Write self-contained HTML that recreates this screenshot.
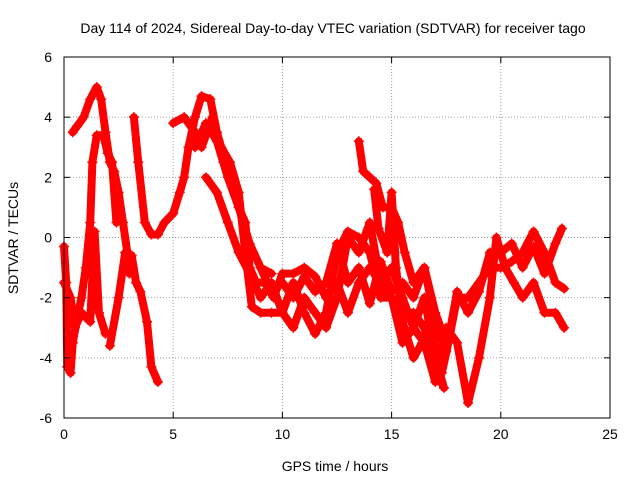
<!DOCTYPE html>
<html><head><meta charset="utf-8"><style>
body{margin:0;background:#fff;}
svg{display:block;font-family:"Liberation Sans",sans-serif;}
</style></head><body>
<svg id="chart" width="640" height="480" viewBox="0 0 640 480" xmlns="http://www.w3.org/2000/svg">
<text x="333" y="33" font-size="14" text-anchor="middle">Day 114 of 2024, Sidereal Day-to-day VTEC variation (SDTVAR) for receiver tago</text>
<text x="335" y="471" font-size="14" text-anchor="middle">GPS time / hours</text>
<text transform="translate(18,238) rotate(-90)" font-size="14" text-anchor="middle">SDTVAR / TECUs</text>
<g id="grid"></g>
<g id="series"></g>
<rect x="64" y="57" width="546" height="361" fill="none" stroke="#000" stroke-width="1"/>
<g id="ticks"></g>
</svg>
<script>
const xTicks=[0,5,10,15,20,25];
const yTicks=[-6,-4,-2,0,2,4,6];
const seriesA=[[0.4,3.5],[0.6,3.7],[0.9,4.0],[1.2,4.6],[1.5,5.0],[1.7,4.6],[1.9,3.5],[2.1,2.5],[2.3,2.2],[2.5,1.5],[2.7,0.5],[2.9,-0.5],[3.0,-1.2]];
const seriesB=[[0,-0.3],[0.1,-1.5],[0.15,-4.3],[0.3,-4.5],[0.4,-3.5],[0.6,-2.7],[0.8,-2.0],[1.0,-1.0],[1.2,0.5],[1.3,2.5],[1.5,3.4],[1.8,3.4],[2.0,2.8],[2.2,2.5],[2.4,0.5]];
const seriesC=[[0,-1.5],[0.3,-2],[0.5,-3],[0.8,-2.5],[1.2,-2.8],[1.4,0.2],[1.6,-2.5],[1.9,-3.2]];
const seriesD=[[2.1,-3.6],[2.5,-2],[2.8,-0.5],[3.1,-0.6],[3.3,-1.5],[3.5,-1.8],[3.8,-2.8],[4.0,-4.3],[4.3,-4.8]];
const seriesE=[[3.2,4.0],[3.4,2.5],[3.7,0.5],[4.0,0.1],[4.3,0.1],[4.6,0.5],[5.0,0.8],[5.3,1.5],[5.5,2.0],[5.7,3.0],[6.0,4.0],[6.3,4.7],[6.7,4.6],[7.0,3.5],[7.3,2.5],[7.6,2.0],[8.0,1.0],[8.3,0.5],[8.5,-1.0],[8.8,-1.5],[9.2,-1.5],[9.6,-2],[10,-1.2],[10.5,-1.2],[11,-1.0],[11.5,-1.3],[12,-2.0],[12.5,-1.5],[13,-2.5],[13.5,-1.5],[14,-1.0],[14.5,-1.5],[15,-2.0],[15.5,-2.5],[16,-2.5],[16.5,-3.0],[17,-4.0],[17.3,-4.5],[17.6,-3.5],[18,-2.0],[18.5,-2.0],[19,-1.5],[19.5,-1.0],[20,-1.0],[20.5,-0.8],[21,-0.5],[21.5,0.2],[22,-0.5],[22.5,-1.5],[22.9,-1.7]];
const seriesF=[[5.0,3.8],[5.5,4.0],[6.0,3.5],[6.3,3.0],[6.8,4.0],[7.2,3.0],[7.6,2.5],[8.0,1.5],[8.3,-0.5],[8.6,-2.3],[9.0,-2.5],[9.5,-2.5],[10,-2.5],[10.5,-3.0],[11,-2.0],[11.5,-2.5],[12,-3.0],[12.5,-2.0],[13,0],[13.5,-0.5],[14,0.5],[14.5,-1.5],[15,-1.0],[15.5,-2.0],[16,-3.0],[16.5,-3.5],[17,-4.8],[17.5,-3.0],[18,-3.5],[18.5,-5.5],[19,-4.0],[19.5,-2.0],[19.8,0],[20.2,-1.0],[20.6,-1.5],[21,-2.0],[21.5,-1.5],[22,-2.5],[22.5,-2.5],[22.9,-3]];
const seriesG=[[13.5,3.2],[13.7,2.2],[14.0,2.0],[14.3,1.8],[14.6,1.0],[15.0,1.0],[15.3,0.5],[15.6,-0.5],[16,-1.5],[16.5,-1.0],[17,-2.5],[17.5,-3.5]];
const seriesH=[[6.5,2.0],[7,1.5],[7.5,0.5],[8,-0.5],[8.5,-1.2],[9,-2.0],[9.5,-1.5],[10,-2.5],[10.5,-1.5],[11,-2.5],[11.5,-3.2],[12,-2.5],[12.5,-0.5],[13,0.2],[13.5,0],[14,-0.5],[14.5,-2.0],[15,-2.0],[15.5,-3.5],[16,-3.0],[16.5,-2.0],[17,-4.0],[17.4,-5.0]];
const seriesI=[[9,-1],[9.5,-1.8],[10,-1.5],[10.5,-2],[11,-1.3],[11.5,-1.8],[12,-1.5],[12.5,-0.2],[13,-1.5],[13.5,-1],[14,-2.2],[14.5,-0.8],[15,-1.8],[15.5,-1.5],[16,-2],[16.5,-1],[17,-2.8],[17.5,-3.8],[18,-1.8],[18.5,-2.5],[19,-1.8],[19.5,-0.5],[20,-0.5],[20.5,-0.2],[21,-1],[21.5,-0.3],[22,-1.2],[22.5,-0.2],[22.8,0.3]];
const seriesJ=[[14.2,1.6],[14.4,0.3],[14.8,-0.5],[15.0,1.5],[15.2,-1],[15.5,-2.8],[16,-4],[16.4,-3.5],[16.8,-2.5],[17.2,-4.8]];
const seriesK=[[6.0,3.0],[6.5,3.8],[7,3.2],[7.5,2.0],[8,1.0],[8.5,-0.2],[9,-1],[9.5,-1.2]];
const allSeries=[seriesA,seriesB,seriesC,seriesD,seriesE,seriesF,seriesG,seriesH,seriesI,seriesJ,seriesK];

const NS="http://www.w3.org/2000/svg";
const X0=64,X1=610,Y0=418,Y1=57;
function xs(v){return X0+(v-0)/(25-0)*(X1-X0);}
function ys(v){return Y0-(v+6)/12*(Y0-Y1);}
const grid=document.getElementById('grid'),ticks=document.getElementById('ticks'),ser=document.getElementById('series');
function mk(tag,attrs,parent){const e=document.createElementNS(NS,tag);for(const k in attrs)e.setAttribute(k,attrs[k]);parent.appendChild(e);return e;}
xTicks.forEach(t=>{
  const x=xs(t);
  if(t>0&&t<25){const g=mk('line',{x1:x,x2:x,y1:Y1,y2:Y0,stroke:'#a0a0a0','stroke-dasharray':'1,2'},grid);
  
  }
  const l=mk('text',{x:x,y:Y0+21,'font-size':14,'text-anchor':'middle'},ticks);l.textContent=t;
  
  
  mk('line',{x1:x,x2:x,y1:Y0,y2:Y0-6,stroke:'#000'},ticks);
  mk('line',{x1:x,x2:x,y1:Y1,y2:Y1+6,stroke:'#000'},ticks);
});
yTicks.forEach(t=>{
  const y=ys(t);
  if(t>-6&&t<6){const g=mk('line',{x1:X0,x2:X1,y1:y,y2:y,stroke:'#a0a0a0','stroke-dasharray':'1,2'},grid);
  
  }
  const l=mk('text',{x:X0-12,y:y+5,'font-size':14,'text-anchor':'end'},ticks);l.textContent=t;
  
  
  mk('line',{x1:X0,x2:X0+6,y1:y,y2:y,stroke:'#000'},ticks);
  mk('line',{x1:X1,x2:X1-6,y1:y,y2:y,stroke:'#000'},ticks);
});
allSeries.forEach((s,i)=>{
  const p=mk('polyline',{points:s.map(d=>xs(d[0])+','+ys(d[1])).join(' '),fill:'none',stroke:'#ff0000','stroke-width':8,'stroke-linejoin':'round','stroke-linecap':'round'},ser);
  
  
  s.forEach(d=>{
    const x=xs(d[0]),y=ys(d[1]);
    const m=mk('path',{d:`M${x-5},${y}H${x+5}M${x},${y-5}V${y+5}`,stroke:'#ff0000','stroke-width':1.5},ser);
    
    
  });
});
</script>
</body></html>
